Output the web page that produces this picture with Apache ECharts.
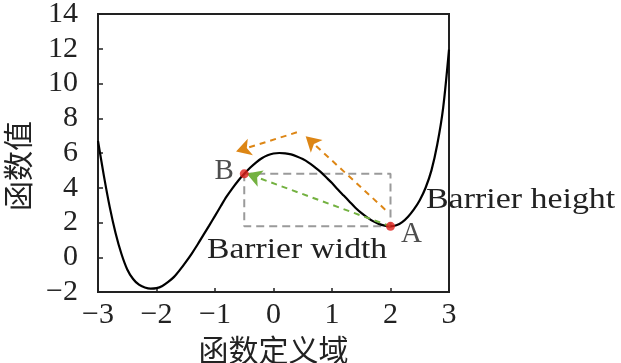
<!DOCTYPE html>
<html><head><meta charset="utf-8">
<script src="https://cdn.jsdelivr.net/npm/echarts@6/dist/echarts.min.js"></script>
<style>html,body{margin:0;padding:0;background:#fff}#c{width:621px;height:363px}</style>
</head><body><div id="c"></div>
<script>
// Curve samples
var curveX = [-3.0, -2.9, -2.8, -2.7, -2.6, -2.5, -2.4, -2.3, -2.2, -2.1, -2.0, -1.9, -1.8, -1.7, -1.6, -1.5, -1.4, -1.3, -1.2, -1.1, -1.0, -0.9, -0.8, -0.7, -0.6, -0.5, -0.4, -0.3, -0.2, -0.1, 0.0, 0.1, 0.2, 0.3, 0.4, 0.5, 0.6, 0.7, 0.8, 0.9, 1.0, 1.1, 1.2, 1.3, 1.4, 1.5, 1.6, 1.7, 1.8, 1.9, 2.0, 2.1, 2.2, 2.3, 2.4, 2.5, 2.6, 2.7, 2.8, 2.9, 3.0];
var curveY = [6.7, 4.7, 2.9, 1.4, 0.2, -0.7, -1.25, -1.58, -1.74, -1.81, -1.78, -1.65, -1.42, -1.13, -0.73, -0.28, 0.2, 0.72, 1.27, 1.82, 2.38, 2.95, 3.5, 3.98, 4.42, 4.8, 5.15, 5.45, 5.7, 5.87, 5.97, 6.0, 5.98, 5.92, 5.8, 5.65, 5.45, 5.2, 4.93, 4.6, 4.27, 3.9, 3.55, 3.2, 2.85, 2.55, 2.3, 2.08, 1.92, 1.82, 1.78, 1.84, 2.02, 2.33, 2.75, 3.28, 4.0, 5.0, 6.5, 8.6, 11.95];
// Marked points
var pointNames = ['B', 'A'];
var pointX = [-0.5, 2.0];
var pointY = [4.8, 1.78];
// Dashed box (barrier width x barrier height)
var boxX = [-0.5, 2.0, 2.0, -0.5, -0.5];
var boxY = [4.8, 4.8, 1.78, 1.78, 4.8];
// Arrows: [x1, y1, x2, y2]
var greenArrow = [2.0, 1.78, -0.46, 4.82];
var orangeArrow1 = [1.91, 2.74, 0.55, 6.96];
var orangeArrow2 = [0.40, 7.19, -0.64, 6.09];
// Axis ticks
var xTicks = [-3, -2, -1, 0, 1, 2, 3];
var yTicks = [-2, 0, 2, 4, 6, 8, 10, 12, 14];

var serif = '"Liberation Serif", "DejaVu Serif", serif';
var cjk = '"Noto Sans CJK SC", sans-serif';
function minus(v){ return String(v).replace('-', '\u2212'); }
function zip(a, b){ return a.map(function(v, i){ return [v, b[i]]; }); }
function arrow(a, color){
  return [{coord: [a[0], a[1]], lineStyle: {color: color}}, {coord: [a[2], a[3]]}];
}

var chart = echarts.init(document.getElementById('c'), null, {renderer: 'canvas'});
chart.setOption({
  animation: false,
  grid: {left: 98, right: 172, top: 14, bottom: 71, show: true, borderColor: '#222', borderWidth: 2,
         containLabel: false, outerBoundsMode: 'none'},
  xAxis: {
    type: 'value', min: xTicks[0], max: xTicks[xTicks.length - 1], interval: 1,
    axisLine: {onZero: false, lineStyle: {color: '#222', width: 2}},
    axisTick: {inside: true, length: 4, lineStyle: {color: '#222', width: 1.5}},
    splitLine: {show: false},
    axisLabel: {color: '#222', fontFamily: serif, fontSize: 30, margin: 8, formatter: minus},
    name: '函数定义域', nameLocation: 'middle', nameGap: 41,
    nameTextStyle: {color: '#222', fontFamily: cjk, fontSize: 30}
  },
  yAxis: {
    type: 'value', min: yTicks[0], max: yTicks[yTicks.length - 1], interval: 2,
    axisLine: {onZero: false, lineStyle: {color: '#222', width: 2}},
    axisTick: {inside: true, length: 5, lineStyle: {color: '#222', width: 1.5}},
    splitLine: {show: false},
    axisLabel: {color: '#222', fontFamily: serif, fontSize: 30, margin: 20, formatter: minus},
    name: '函数值', nameLocation: 'middle', nameGap: 65, nameRotate: 90,
    nameTextStyle: {color: '#222', fontFamily: cjk, fontSize: 30, padding: [0, 26, 0, 0]}
  },
  series: [
    {
      type: 'line', data: zip(boxX, boxY), symbol: 'none', silent: true,
      lineStyle: {color: '#9a9a9a', width: 2, type: [8, 5]}, z: 2
    },
    {
      type: 'line', data: zip(curveX, curveY), symbol: 'none', smooth: 0.3,
      lineStyle: {color: '#000', width: 2.2}, z: 3,
      markLine: {
        silent: true, symbol: ['none', 'arrow'], symbolSize: [13, 15],
        label: {show: false},
        lineStyle: {type: [6, 5], width: 2, color: '#dd8615'},
        data: [
          arrow(greenArrow, '#73b140'),
          arrow(orangeArrow1, '#dd8615'),
          arrow(orangeArrow2, '#dd8615')
        ]
      }
    },
    {
      type: 'scatter', symbolSize: 9, z: 5,
      itemStyle: {color: '#e0201c'},
      label: {
        show: true, color: '#222', fontFamily: serif, fontSize: 29,
        formatter: function(p){ return pointNames[p.dataIndex]; }
      },
      emphasis: {disabled: true},
      data: [
        {value: [pointX[0], pointY[0]], label: {position: 'left', distance: 6, offset: [0, -2]}},
        {value: [pointX[1], pointY[1]], label: {position: 'right', distance: 6, offset: [0, 8]}}
      ]
    }
  ],
  graphic: [
    {type: 'text', x: 426, y: 200, scaleX: 1.13, style: {text: 'Barrier height', x: 0, y: 0, font: '30px ' + serif, fill: '#222', textVerticalAlign: 'middle'}},
    {type: 'text', x: 207, y: 250, scaleX: 1.12, style: {text: 'Barrier width', x: 0, y: 0, font: '30px ' + serif, fill: '#222', textVerticalAlign: 'middle'}}
  ]
});
</script></body></html>
